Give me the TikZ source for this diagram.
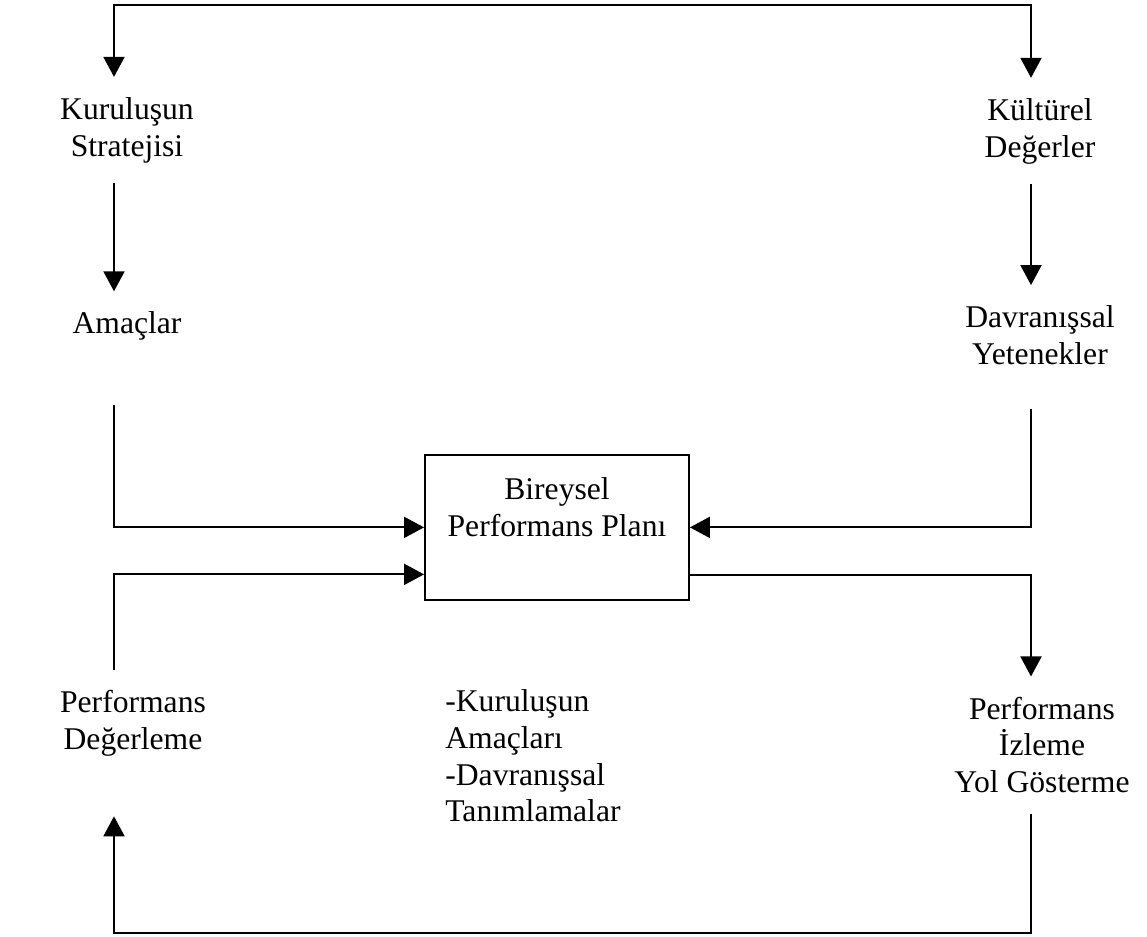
\documentclass[tikz,border=0pt]{standalone}
\usepackage{fontspec}
\setmainfont{Liberation Serif}
\usetikzlibrary{arrows.meta, calc}

\begin{document}
\begin{tikzpicture}[
        x=0.02cm, y=-0.02cm,
        >={Triangle[length=0.4cm, width=0.42cm]},
        flow/.style={
            line width=1.1pt,
        },
        label-text/.style={
            inner sep=0.4cm,
            align=center,
            font=\fontsize{18}{21}\selectfont,
        },
        plan-box/.style={
            draw,
            line width=1.1pt,
            inner sep=0.45cm,
            minimum width=5.28cm,
            text depth=0.82cm,
            align=center,
            font=\fontsize{18}{21}\selectfont,
        },
    ]
    \useasboundingbox (0, 0) rectangle (1147, 937);

    \coordinate (left-col) at (114, 0);
    \coordinate (right-col) at (1031, 0);
    \coordinate (top-line) at (0, 5);
    \coordinate (bottom-line) at (0, 933);

    \node[label-text] (strateji) at (127, 130) {Kuruluşun\\Stratejisi};
    \node[label-text] (amaclar) at (127, 326) {Amaçlar};
    \node[label-text] (kultur) at (1040, 131) {Kültürel\\Değerler};
    \node[label-text] (davranis) at (1040, 335) {Davranışsal\\Yetenekler};

    \node[plan-box, anchor=north] (plan) at (557, 454) {Bireysel\\Performans Planı};

    \node[label-text] (degerleme) at (133, 723) {Performans\\Değerleme};
    \node[label-text, align=left, anchor=north west] (tanim) at (425, 669)
        {-Kuruluşun\\Amaçları\\-Davranışsal\\Tanımlamalar};
    \node[label-text] (izleme) at (1042, 745) {Performans\\İzleme\\Yol Gösterme};

    \draw[flow, <->] (strateji.north -| left-col) -- (left-col |- top-line)
        -| (kultur.north -| right-col);

    \draw[flow, ->] (strateji.south -| left-col) -- (amaclar.north -| left-col);
    \draw[flow, ->] (kultur.south -| right-col) -- (davranis.north -| right-col);

    \draw[flow, ->, shorten <=0.88cm] (amaclar.south -| left-col) |- (plan.west);
    \draw[flow, ->, shorten <=0.48cm] (davranis.south -| right-col) |- (plan.east);

    \draw[flow, ->] (degerleme.north -| left-col) |- ([yshift=-0.94cm]plan.west);
    \draw[flow, ->] ([yshift=-0.96cm]plan.east) -| (izleme.north -| right-col);

    \draw[flow, ->, shorten >=0.8cm] (izleme.south -| right-col)
        -- (right-col |- bottom-line) -- (left-col |- bottom-line)
        -- (degerleme.south -| left-col);
\end{tikzpicture}
\end{document}
